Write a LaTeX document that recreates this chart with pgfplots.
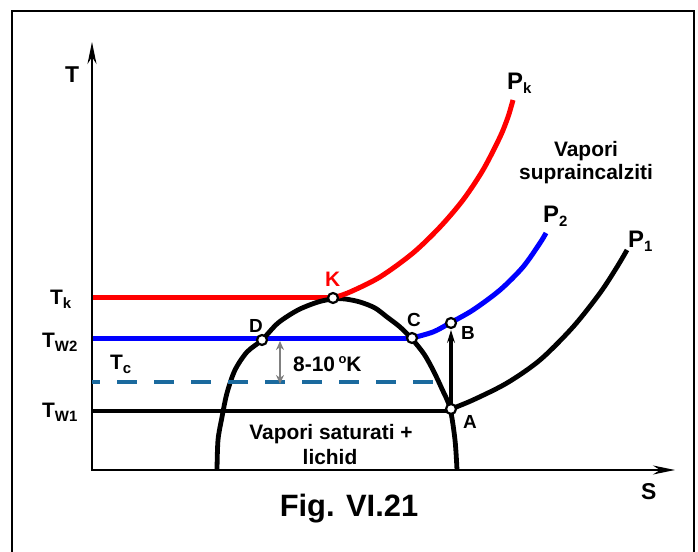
\documentclass[border=0pt]{standalone}
\usepackage{pgfplots}
\pgfplotsset{compat=1.18}
\usepackage{fontspec}
\setmainfont{Liberation Sans}
\usetikzlibrary{arrows.meta}
\definecolor{tcblue}{HTML}{1B6A9E}
\newcommand{\fs}[1]{\fontsize{#1}{#1}\selectfont\bfseries}
\newcommand{\sub}[1]{\raisebox{-4bp}{\fs{15}#1}}
\begin{document}
\begin{tikzpicture}
\useasboundingbox (0,0) rectangle (698bp,552bp);
\begin{axis}[width=698bp, height=552bp, scale only axis,
  xmin=0, xmax=698, ymin=0, ymax=552, axis lines=none, clip=false]
% frame
\addplot[black, line width=2.5bp, line join=miter] coordinates {(12,-3) (12,541) (694,541) (694,-3)};
% axes
\addplot[black, line width=2bp, -{Stealth[length=22bp,width=9bp,inset=7bp]}] coordinates {(92,81) (92,510)};
\addplot[black, line width=2bp, -{Stealth[length=22bp,width=9bp,inset=7bp]}] coordinates {(91,82) (675,82)};
% horizontal isotherms
\addplot[red, line width=5bp] coordinates {(93,254) (333,254)};
\addplot[blue, line width=5bp] coordinates {(93,213) (412,213)};
\addplot[black, line width=4.5bp] coordinates {(93,141) (451,141)};
% saturation dome
\addplot[black, line width=4.8bp, smooth] coordinates {
 (217,82) (218,112) (222,135) (227,159) (235,182) (247,200) (262,212)
 (278,229) (298,242) (318,250) (333,253) (345,253) (360,250) (375,244)
 (387,235) (400,225) (412,213) (424,198) (433,182) (442,163) (450,144)
 (455,112) (457,82)};
% isobars
\addplot[red, line width=5bp, smooth] coordinates {
 (333,254) (350,260) (380,275) (413,299) (440,325) (463,352) (483,382)
 (500,415) (508,435) (513,452)};
\addplot[blue, line width=5bp, smooth] coordinates {
 (412,214) (433,220) (450,229) (473,242) (500,262) (523,285) (540,309) (546,319)};
\addplot[black, line width=4.8bp, smooth] coordinates {
 (451,143) (473,152) (507,169) (540,192) (573,225) (600,259) (617,285) (627,302)};
% Tc dashed
\addplot[tcblue, line width=4bp, dash pattern=on 20bp off 17bp, dash phase=12bp] coordinates {(92,170) (437,170)};
% 8-10 K double arrow
\addplot[gray, line width=2bp, {Stealth[length=9bp,width=8bp]}-{Stealth[length=9bp,width=8bp]}] coordinates {(280,168) (280,211)};
% A -> B arrow
\addplot[black, line width=3.5bp, -{Stealth[length=13bp,width=8bp,inset=5bp]}] coordinates {(451,143) (451,222)};
% points
\addplot[only marks, mark=*, mark size=5bp, mark options={fill=white, draw=black, line width=2.2bp}] coordinates {
 (333,254) (262,212) (412,214) (451,229) (451,143)};
% labels
\node[anchor=base west, inner sep=0] at (axis cs:65,469) {\fs{23}T};
\node[anchor=base west, inner sep=0] at (axis cs:641,52) {\fs{23}S};
\node[anchor=base, inner sep=0] at (axis cs:349,35) {\fs{31}Fig. VI.21};
\node[anchor=base west, inner sep=0] at (axis cs:507,462) {\fs{24}P\sub{k}};
\node[anchor=base west, inner sep=0] at (axis cs:543,329) {\fs{24}P\sub{2}};
\node[anchor=base west, inner sep=0] at (axis cs:628,304) {\fs{24}P\sub{1}};
\node[anchor=base, inner sep=0] at (axis cs:586,395) {\fs{21}Vapori};
\node[anchor=base, inner sep=0] at (axis cs:586,372) {\fs{21}supraincalziti};
\node[anchor=base west, inner sep=0] at (axis cs:50,247) {\fs{21}T\sub{k}};
\node[anchor=base west, inner sep=0] at (axis cs:42,204) {\fs{21}T\sub{W2}};
\node[anchor=base west, inner sep=0] at (axis cs:110,182) {\fs{21}T\sub{c}};
\node[anchor=base west, inner sep=0] at (axis cs:42,134) {\fs{21}T\sub{W1}};
\node[anchor=base west, inner sep=0, text=red] at (axis cs:325,265) {\fs{21}K};
\node[anchor=base west, inner sep=0] at (axis cs:249,219) {\fs{19}D};
\node[anchor=base west, inner sep=0] at (axis cs:407,225) {\fs{19}C};
\node[anchor=base west, inner sep=0] at (axis cs:461,212) {\fs{19}B};
\node[anchor=base west, inner sep=0] at (axis cs:463,123) {\fs{19}A};
\node[anchor=base west, inner sep=0] at (axis cs:293,180) {\fs{21}8-10\,\raisebox{8bp}{\fs{13}o}K};
\node[anchor=base, inner sep=0] at (axis cs:331,112) {\fs{21}Vapori saturati +};
\node[anchor=base, inner sep=0] at (axis cs:330,87) {\fs{21}lichid};
\end{axis}
\end{tikzpicture}
\end{document}
